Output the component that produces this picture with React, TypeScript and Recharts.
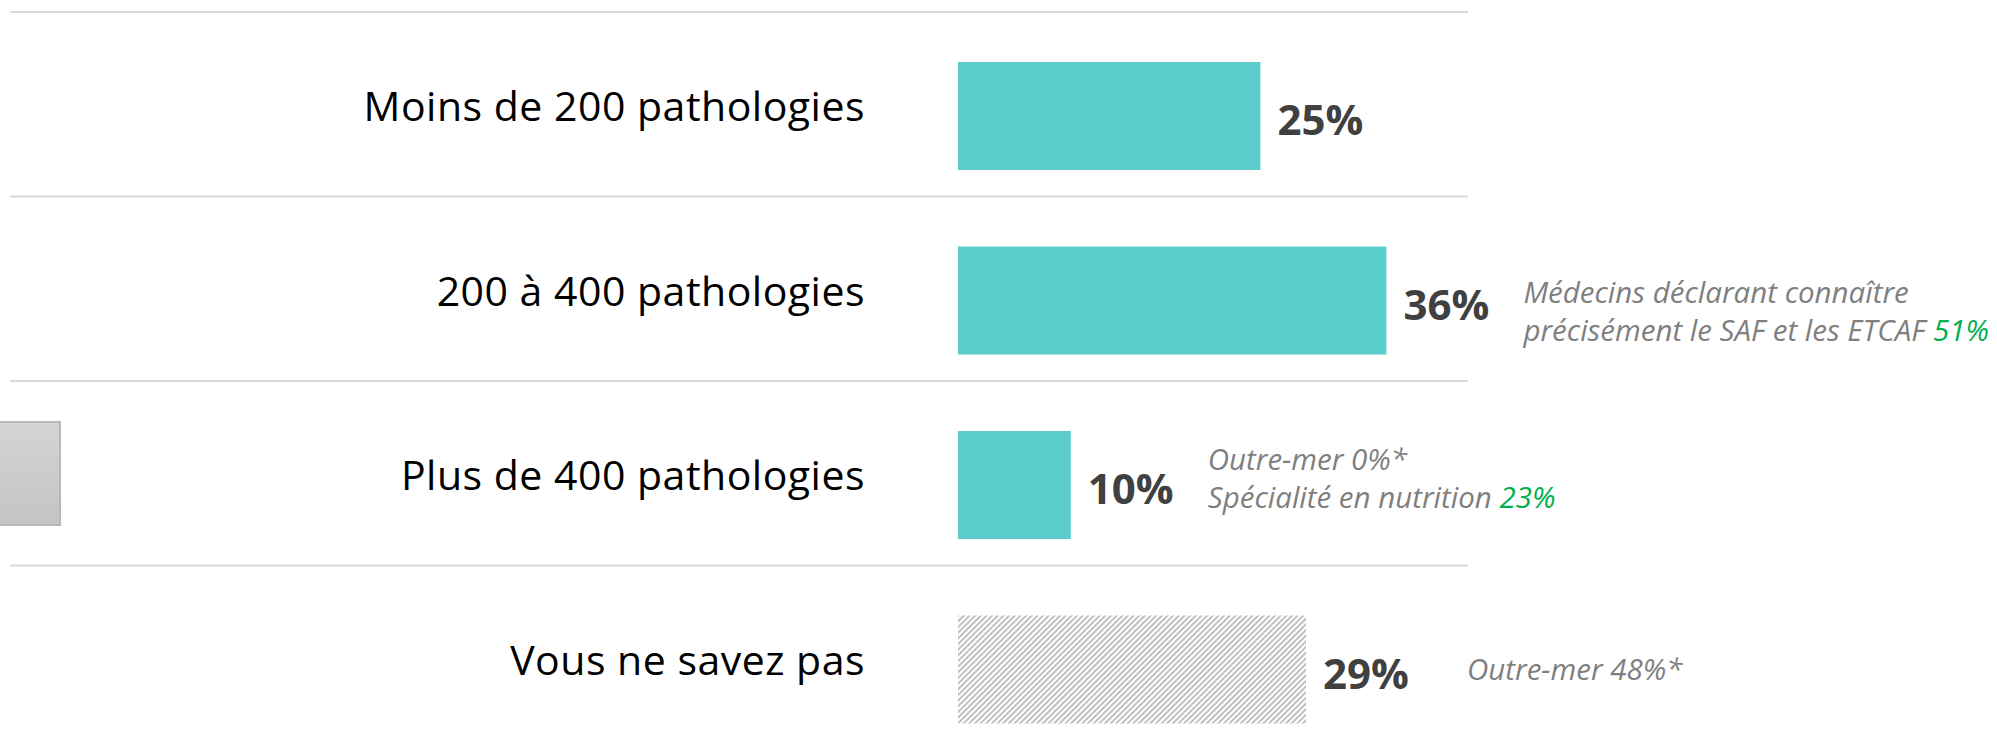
import { Bar, BarChart, CartesianGrid, Cell, LabelList, XAxis, YAxis } from "recharts";

const categories = [
  "Moins de 200 pathologies",
  "200 à 400 pathologies",
  "Plus de 400 pathologies",
  "Vous ne savez pas",
];
const shares = [25.2, 35.7, 9.4, 29];
const shareLabels = ["25%", "36%", "10%", "29%"];
const noteText = [
  [],
  ["Médecins déclarant connaître", "précisément le SAF et les ETCAF "],
  ["Outre-mer 0%*", "Spécialité en nutrition "],
  ["Outre-mer 48%*"],
];
const noteHighlight = [[], ["", "51%"], ["", "23%"], [""]];

const data = categories.map((name, i) => ({ name, value: shares[i], label: shareLabels[i] }));

const TEAL = "#5bcecc";
const NOTE_DX = [0, 137, 137, 161];
const NOTE_DY = [0, 2, -15, 10];
const NOTE_LINE = 38;

function CategoryTick(props: any) {
  const { x, y, payload } = props;
  return (
    <text
      x={x}
      y={y}
      dy={5}
      textAnchor="end"
      fill="#000"
      fontSize={41}
      letterSpacing={0.5}
      fontFamily="'Open Sans', sans-serif"
    >
      {payload.value}
    </text>
  );
}

function BarWithNote(props: any) {
  const { x, y, width, height, fill, payload } = props;
  const i = categories.indexOf(payload?.name);
  const lines = noteText[i] || [];
  const cy = y + height / 2;
  return (
    <g>
      <rect x={x} y={y} width={width} height={height} fill={fill} />
      {lines.map((t, j) => (
        <text
          key={j}
          x={x + width + NOTE_DX[i]}
          y={cy + NOTE_DY[i] + j * NOTE_LINE}
          fill="#7f7f7f"
          fontSize={29.5}
          fontStyle="italic"
          fontFamily="'Open Sans', sans-serif"
        >
          {t}
          {noteHighlight[i][j] ? <tspan fill="#00b050">{noteHighlight[i][j]}</tspan> : null}
        </text>
      ))}
    </g>
  );
}

function ValueLabel(props: any) {
  const { x, y, width, height, value } = props;
  return (
    <text
      x={x + width + 17}
      y={y + height / 2}
      dy={19}
      fill="#404040"
      fontSize={42}
      fontWeight={700}
      fontFamily="'Open Sans', sans-serif"
    >
      {value}
    </text>
  );
}

export default function App() {
  return (
    <div
      style={{
        position: "absolute",
        left: 0,
        top: 0,
        width: 1997,
        height: 745,
        overflow: "hidden",
        background: "#fff",
      }}
    >
      <div
        style={{
          position: "absolute",
          left: 0,
          top: 421,
          width: 59,
          height: 101,
          background: "linear-gradient(#d4d4d4, #c4c4c4)",
          borderTop: "2px solid #b8b8b8",
          borderRight: "2px solid #b8b8b8",
          borderBottom: "2px solid #b8b8b8",
        }}
      />
      <BarChart
        width={1997}
        height={770}
        data={data}
        layout="vertical"
        margin={{ top: 24, right: 319, bottom: 8, left: 0 }}
        barSize={108}
      >
        <defs>
          <pattern id="hatch" width="4" height="4" patternUnits="userSpaceOnUse" patternTransform="rotate(45)">
            <rect width="4" height="4" fill="#ffffff" />
            <line x1="0" y1="0" x2="0" y2="4" stroke="#b5b5b5" strokeWidth="3.4" />
          </pattern>
        </defs>
        <CartesianGrid
          vertical={false}
          x={10}
          width={1458}
          stroke="#d9d9d9"
          strokeWidth={2}
          horizontalCoordinatesGenerator={({ offset }: any) => {
            const band = offset.height / categories.length;
            return categories.map((_, i) => offset.top + i * band - 12);
          }}
        />
        <XAxis type="number" domain={[0, 60]} hide />
        <YAxis
          type="category"
          dataKey="name"
          width={958}
          axisLine={false}
          tickLine={false}
          tickSize={0}
          tickMargin={93}
          tick={<CategoryTick />}
          interval={0}
        />
        <Bar dataKey="value" isAnimationActive={false} shape={<BarWithNote />}>
          {data.map((d, i) => (
            <Cell key={d.name} fill={i === data.length - 1 ? "url(#hatch)" : TEAL} />
          ))}
          <LabelList dataKey="label" content={<ValueLabel />} />
        </Bar>
      </BarChart>
    </div>
  );
}
